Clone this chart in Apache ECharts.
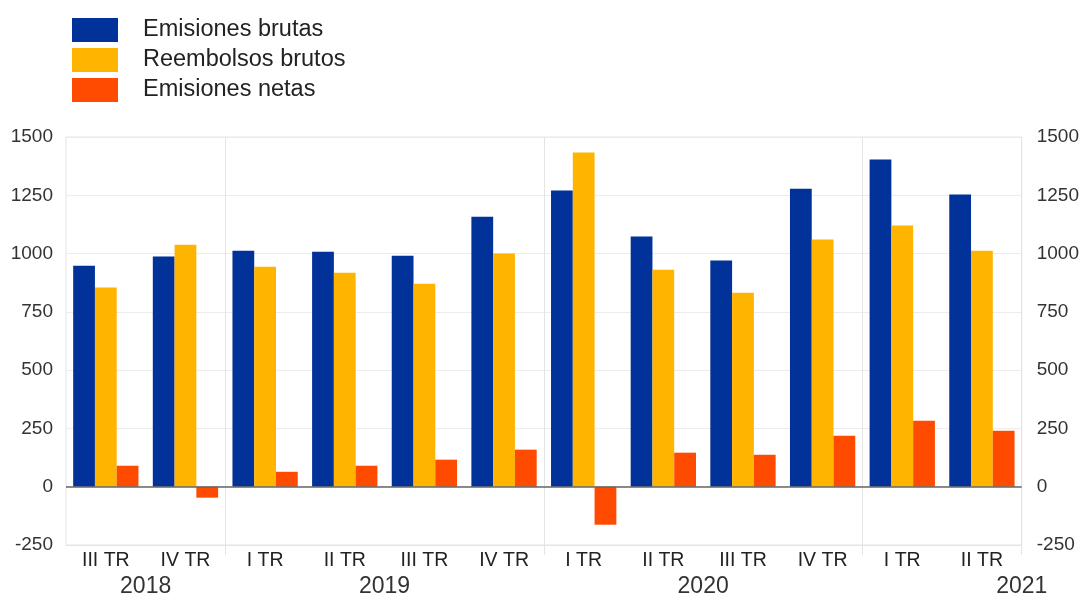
<!DOCTYPE html>
<html>
<head>
<meta charset="utf-8">
<script src="https://cdn.jsdelivr.net/npm/echarts@6/dist/echarts.min.js"></script>
<style>
  html, body { margin: 0; padding: 0; background: #fff; }
  #chart { width: 1082px; height: 599px; }
</style>
</head>
<body>
<div id="chart"></div>
<script>
// categorías (trimestres)
const quarters = ['III TR', 'IV TR', 'I TR', 'II TR', 'III TR', 'IV TR', 'I TR', 'II TR', 'III TR', 'IV TR', 'I TR', 'II TR'];
// etiquetas de año, posición en unidades de categoría (0..12)
const yearLabels = ['', '2018', '', '', '2019', '', '', '', '2020', '', '', '', '2021'];
// separadores de año (índice de la categoría que empieza el año)
const yearStarts = [2, 6, 10];

const emisionesBrutas = [948, 987, 1012, 1008, 991, 1158, 1270, 1073, 970, 1278, 1403, 1253];
const reembolsosBrutos = [854, 1038, 944, 918, 871, 1000, 1433, 931, 832, 1060, 1120, 1012];
const emisionesNetas = [90, -47, 64, 90, 116, 159, -163, 146, 137, 219, 283, 240];

const yTicks = { min: -250, max: 1500, interval: 250 };

const chart = echarts.init(document.getElementById('chart'));

const font = 'Liberation Sans, Arial, sans-serif';

const yAxisBase = {
  type: 'value',
  min: yTicks.min,
  max: yTicks.max,
  interval: yTicks.interval,
  axisLine: { show: false },
  axisTick: { show: false },
  axisLabel: {
    color: '#333',
    fontSize: 19,
    fontFamily: font,
    margin: 13,
    formatter: (v) => String(v)
  },
  splitLine: { show: true, lineStyle: { color: '#ececec', width: 1 } }
};

const option = {
  backgroundColor: '#fff',
  animation: false,
  legend: {
    orient: 'vertical',
    left: 67,
    top: 13,
    itemWidth: 46,
    itemHeight: 24,
    itemGap: 6,
    icon: 'rect',
    textStyle: { color: '#222', fontSize: 23.5, fontFamily: font, padding: [0, 0, 0, 20] },
    data: ['Emisiones brutas', 'Reembolsos brutos', 'Emisiones netas']
  },
  grid: {
    left: 66,
    right: 60,
    top: 137,
    bottom: 54,
    show: true,
    borderColor: '#e4e4e4',
    borderWidth: 1
  },
  xAxis: [
    {
      type: 'category',
      data: quarters,
      position: 'bottom',
      axisLine: { show: true, onZero: false, lineStyle: { color: '#e4e4e4' } },
      axisTick: {
        show: true,
        length: 10,
        interval: (i) => yearStarts.includes(i),
        lineStyle: { color: '#e4e4e4' }
      },
      splitLine: {
        show: true,
        interval: (i) => yearStarts.includes(i),
        lineStyle: { color: '#e4e4e4', width: 1 }
      },
      axisLabel: { color: '#222', fontSize: 19.5, fontFamily: font, margin: 6, interval: 0 }
    },
    {
      type: 'value',
      min: 0,
      max: 12,
      interval: 1,
      position: 'bottom',
      offset: 24,
      axisLine: { show: false },
      axisTick: { show: false },
      splitLine: { show: false },
      axisLabel: {
        color: '#333',
        fontSize: 23,
        fontFamily: font,
        margin: 6,
        showMinLabel: true,
        showMaxLabel: true,
        formatter: (v) => yearLabels[Math.round(v)] || ''
      }
    }
  ],
  yAxis: [
    Object.assign({}, yAxisBase, { position: 'left' }),
    Object.assign({}, yAxisBase, {
      position: 'right',
      splitLine: { show: false },
      axisLabel: Object.assign({}, yAxisBase.axisLabel, { margin: 15 })
    })
  ],
  series: [
    {
      name: 'Emisiones brutas',
      type: 'bar',
      data: emisionesBrutas,
      barGap: '0%',
      barCategoryGap: '18%',
      itemStyle: { color: '#003299' },
      markLine: {
        silent: true,
        symbol: 'none',
        label: { show: false },
        lineStyle: { color: '#666', width: 1.5, type: 'solid' },
        data: [{ yAxis: 0 }]
      }
    },
    {
      name: 'Reembolsos brutos',
      type: 'bar',
      data: reembolsosBrutos,
      barGap: '0%',
      barCategoryGap: '18%',
      itemStyle: { color: '#FFB400' }
    },
    {
      name: 'Emisiones netas',
      type: 'bar',
      data: emisionesNetas,
      barGap: '0%',
      barCategoryGap: '18%',
      itemStyle: { color: '#FF4B00' }
    }
  ]
};

chart.setOption(option);
</script>
</body>
</html>
